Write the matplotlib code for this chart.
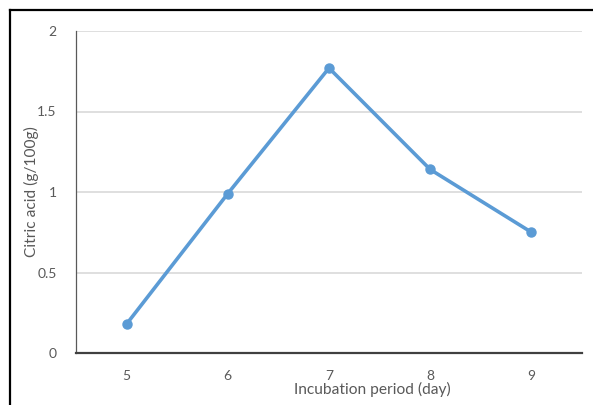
import matplotlib
matplotlib.use("Agg")
from matplotlib import pyplot as plt
from matplotlib.lines import Line2D

# data
days = [5, 6, 7, 8, 9]
citric_acid = [0.18, 0.99, 1.77, 1.14, 0.75]
y_ticks = [0, 0.5, 1, 1.5, 2]
y_tick_labels = ["0", "0.5", "1", "1.5", "2"]

plt.rcParams["font.family"] = ["Lato", "DejaVu Sans"]

W, H = 593, 405
fig = plt.figure(figsize=(W / 100, H / 100), dpi=100)
fig.patch.set_facecolor("white")

# page frame (left and top only)
fig.add_artist(Line2D([10 / W, 10 / W], [0, 1 - 10 / H], transform=fig.transFigure, color="black", linewidth=1.6))
fig.add_artist(Line2D([10 / W, 1], [1 - 10 / H, 1 - 10 / H], transform=fig.transFigure, color="black", linewidth=1.6))

ax = fig.add_axes([76 / W, 1 - 353 / H, (582 - 76) / W, (353 - 31) / H])
ax.plot(days, citric_acid, color="#5b9bd5", linewidth=2.6, marker="o", markersize=6.5, solid_capstyle="round")

ax.set_xlim(4.5, 9.5)
ax.set_ylim(0, 2)
ax.set_xticks(days)
ax.set_xticklabels([str(d) for d in days])
ax.set_yticks(y_ticks)
ax.set_yticklabels(y_tick_labels)

ax.grid(axis="y", color="#d9d9d9", linewidth=1.2)
ax.set_axisbelow(True)
for s in ["top", "right"]:
    ax.spines[s].set_visible(False)
ax.spines["left"].set_color("#595959")
ax.spines["left"].set_linewidth(0.9)
ax.spines["bottom"].set_color("#404040")
ax.spines["bottom"].set_linewidth(1.6)

ax.tick_params(axis="both", length=0, labelsize=10, colors="#595959")
ax.tick_params(axis="y", pad=14)
ax.tick_params(axis="x", pad=12)

ax.set_xlabel("Incubation period (day)", fontsize=11.2, color="#595959", va="center")
ax.xaxis.set_label_coords((372 - 76) / 506, -(389 - 353) / 322)
ax.set_ylabel("Citric acid (g/100g)", fontsize=11.2, color="#595959", va="center")
ax.yaxis.set_label_coords(-(76 - 31) / 506, (353 - 192) / 322)

fig.savefig("out.png", dpi=100)
